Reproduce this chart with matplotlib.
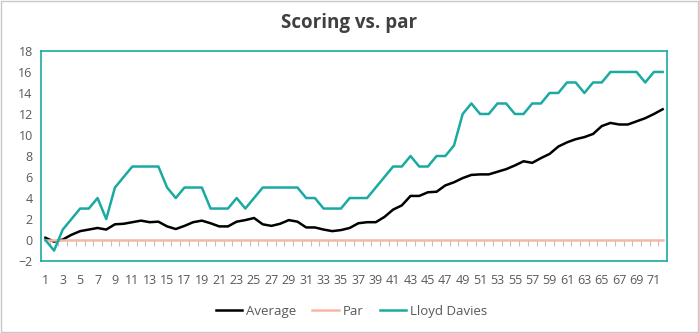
import numpy as np
import matplotlib.pyplot as plt
from matplotlib.patches import Rectangle

plt.rcParams['font.family'] = ['Open Sans', 'DejaVu Sans']

holes = list(range(1, 73))
average = [0.22, -0.15, 0.05, 0.5, 0.85, 1.0, 1.15, 1.0, 1.5, 1.55, 1.7, 1.85,
           1.7, 1.75, 1.3, 1.05, 1.35, 1.7, 1.85, 1.6, 1.3, 1.3, 1.75, 1.9,
           2.1, 1.5, 1.35, 1.55, 1.9, 1.75, 1.2, 1.2, 1.0, 0.85, 0.95, 1.15,
           1.6, 1.7, 1.7, 2.2, 2.9, 3.3, 4.2, 4.2, 4.55, 4.6, 5.2, 5.5,
           5.9, 6.2, 6.25, 6.25, 6.5, 6.75, 7.1, 7.5, 7.35, 7.8, 8.2, 8.9,
           9.3, 9.6, 9.8, 10.1, 10.85, 11.15, 11.0, 11.0, 11.3, 11.6, 12.0, 12.45]
par = [0] * 72
lloyd = [0, -1, 1, 2, 3, 3, 4, 2, 5, 6, 7, 7, 7, 7, 5, 4, 5, 5, 5, 3, 3, 3, 4, 3,
         4, 5, 5, 5, 5, 5, 4, 4, 3, 3, 3, 4, 4, 4, 5, 6, 7, 7, 8, 7, 7, 8, 8, 9,
         12, 13, 12, 12, 13, 13, 12, 12, 13, 13, 14, 14, 15, 15, 14, 15, 15, 16,
         16, 16, 16, 15, 16, 16]

teal = '#1aaaa2'
salmon = '#f6b8a4'
grey = '#595959'

fig = plt.figure(figsize=(6.99, 3.33), dpi=100)
fig.patches.append(Rectangle((0.001, 0.002), 0.997, 0.995, transform=fig.transFigure,
                             fill=False, edgecolor='#c8c8c8', linewidth=1))
ax = fig.add_axes([0.0587, 0.216, 0.8955, 0.631])

ax.plot(holes, average, color='black', linewidth=1.8, label='Average')
ax.plot(holes, par, color=salmon, linewidth=1.8, label='Par')
ax.plot(holes, lloyd, color=teal, linewidth=1.8, label='Lloyd Davies')

ax.set_xlim(0.5, 72.5)
ax.set_ylim(-2, 18)
ax.set_yticks(range(-2, 19, 2))
ax.set_xticks(range(1, 73, 2))
ax.tick_params(axis='both', length=0, labelsize=9, labelcolor=grey)
ax.tick_params(axis='x', pad=9)
ax.tick_params(axis='y', pad=6)
for s in ax.spines.values():
    s.set_color(teal)
    s.set_linewidth(1.2)

# category tick marks along the zero line
sec = ax.secondary_xaxis(0.1)
sec.set_xticks(np.arange(1.5, 72.5, 1))
sec.tick_params(axis='x', length=4, color='#bfbfbf', labelbottom=False, width=0.8)
sec.spines['bottom'].set_visible(False)

fig.text(0.5, 0.931, 'Scoring vs. par', ha='center', va='center',
         fontsize=13.5, fontweight='bold', color='#404040')

fig.legend(loc='center', bbox_to_anchor=(0.503, 0.066), ncol=3, frameon=False,
           fontsize=9.5, labelcolor=grey, handlelength=2.0, handletextpad=0.3,
           columnspacing=1.2)

fig.savefig('out.png', dpi=100)
